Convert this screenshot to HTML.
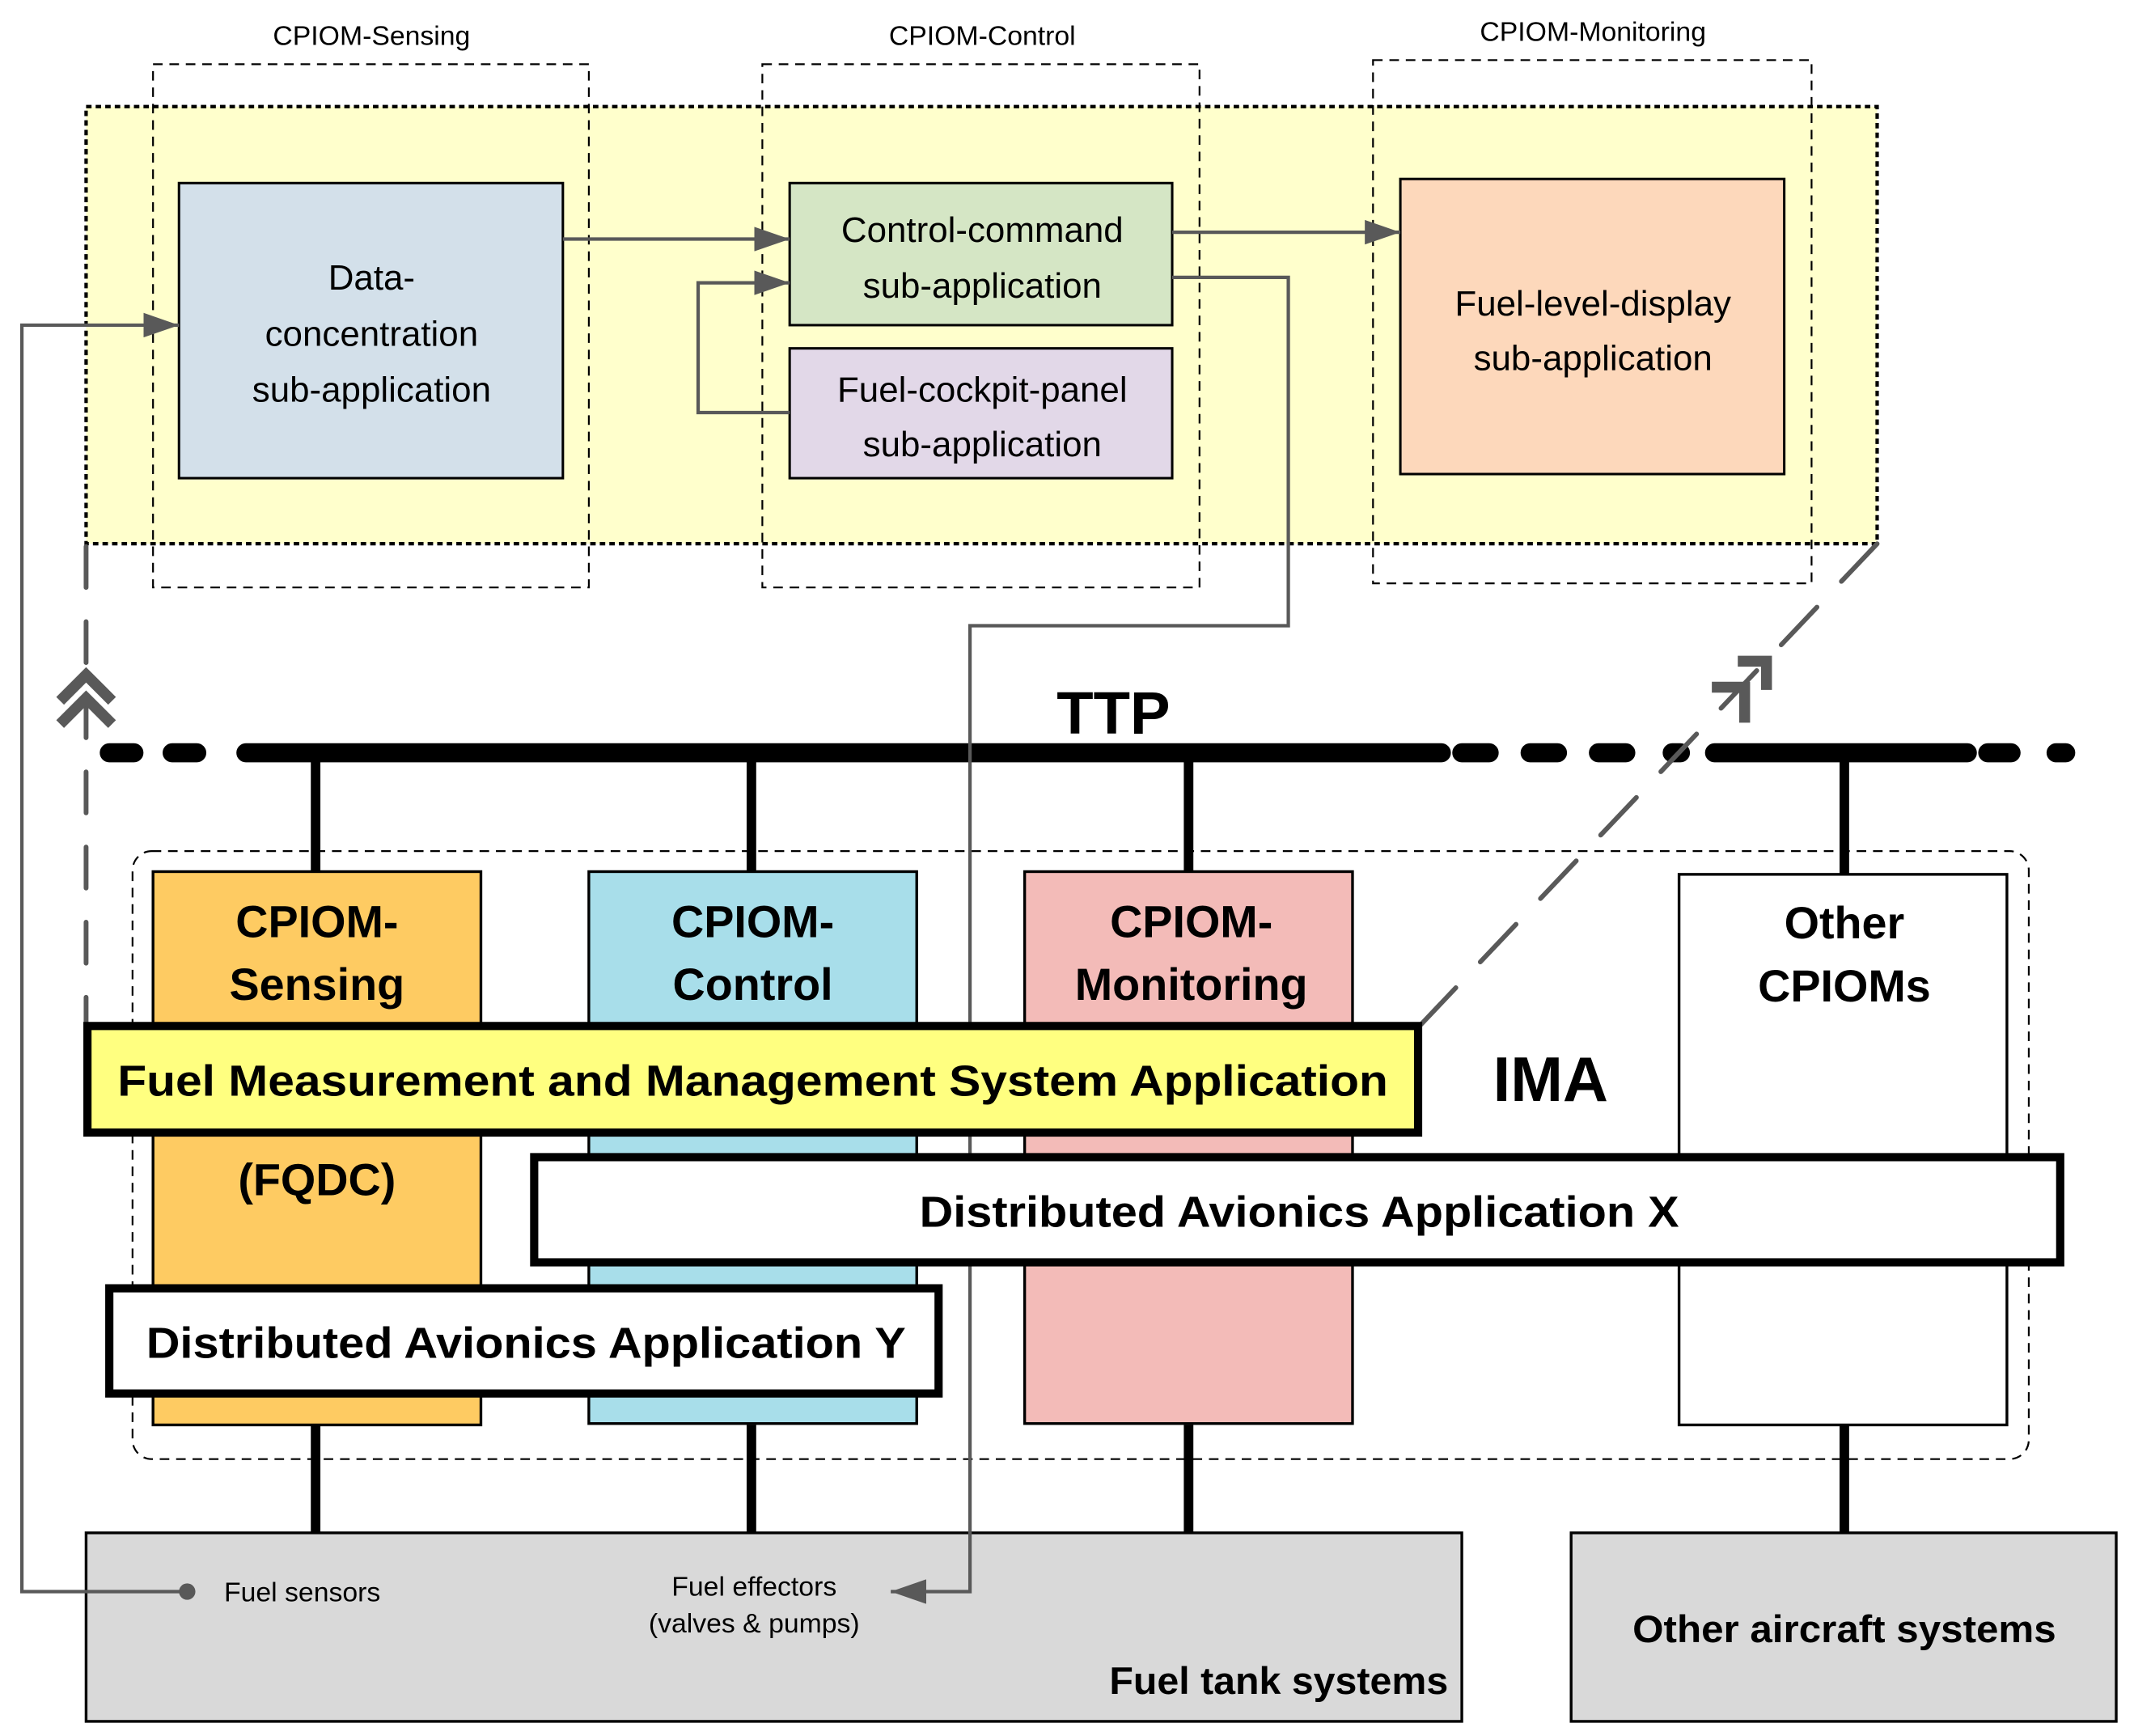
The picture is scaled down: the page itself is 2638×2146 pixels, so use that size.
<!DOCTYPE html>
<html><head><meta charset="utf-8"><style>
html,body{margin:0;padding:0;background:#fff}
svg{display:block}
text{font-family:"Liberation Sans",sans-serif}
</style></head><body>
<svg width="2638" height="2146" viewBox="0 0 1562 1270.7" xmlns="http://www.w3.org/2000/svg">
<defs>
<marker id="ar" markerWidth="26" markerHeight="18" refX="26" refY="9" orient="auto" markerUnits="userSpaceOnUse" viewBox="0 0 26 18">
<path d="M0,0 L26,9 L0,18 z" fill="#595959"/></marker>
</defs>
<rect x="63" y="78" width="1311" height="320" fill="#ffffcc" stroke="#000" stroke-width="2.5" stroke-dasharray="4,3"/>
<g fill="none" stroke="#000" stroke-width="1.3" stroke-dasharray="7,5">
<rect x="112" y="47" width="319" height="383"/>
<rect x="558" y="47" width="320" height="383"/>
<rect x="1005" y="44" width="321" height="383"/>
</g>
<g font-size="20" text-anchor="middle" fill="#000">
<text x="272" y="33">CPIOM-Sensing</text>
<text x="719" y="33">CPIOM-Control</text>
<text x="1166" y="30">CPIOM-Monitoring</text>
</g>
<g stroke="#000" stroke-width="1.8">
<rect x="131" y="134" width="281" height="216" fill="#d3e0ea"/>
<rect x="578" y="134" width="280" height="104" fill="#d5e6c5"/>
<rect x="578" y="255" width="280" height="95" fill="#e2d8e8"/>
<rect x="1025" y="131" width="281" height="216" fill="#fdd8bb"/>
</g>
<g font-size="26" text-anchor="middle" fill="#000">
<text x="272" y="212">Data-</text>
<text x="272" y="253">concentration</text>
<text x="272" y="294">sub-application</text>
<text x="719" y="177">Control-command</text>
<text x="719" y="218">sub-application</text>
<text x="719" y="294">Fuel-cockpit-panel</text>
<text x="719" y="334">sub-application</text>
<text x="1166" y="231">Fuel-level-display</text>
<text x="1166" y="271">sub-application</text>
</g>
<g stroke="#000" stroke-width="14" stroke-linecap="round">
<path d="M80,551 H98"/><path d="M126,551 H144"/>
<path d="M180,551 H1055"/>
<path d="M1070,551 H1090"/><path d="M1120,551 H1140"/><path d="M1170,551 H1190"/>
<path d="M1224,551 H1230"/>
<path d="M1255,551 H1440"/>
<path d="M1455,551 H1472"/><path d="M1505,551 H1512"/>
</g>
<text x="815" y="537" font-size="44" font-weight="bold" text-anchor="middle">TTP</text>
<g stroke="#000" stroke-width="7">
<path d="M231,551 V640"/><path d="M550,551 V640"/><path d="M870,551 V640"/><path d="M1350,551 V642"/>
<path d="M231,1043 V1122"/><path d="M550,1043 V1122"/><path d="M870,1043 V1122"/><path d="M1350,1040 V1122"/>
</g>
<rect x="97" y="623" width="1388" height="445" rx="14" fill="none" stroke="#000" stroke-width="1.3" stroke-dasharray="7,5"/>
<g stroke="#000" stroke-width="2">
<rect x="112" y="638" width="240" height="405" fill="#fecb62"/>
<rect x="431" y="638" width="240" height="404" fill="#a8deea"/>
<rect x="750" y="638" width="240" height="404" fill="#f3bbb8"/>
<rect x="1229" y="640" width="240" height="403" fill="#fff"/>
</g>
<g font-size="33" font-weight="bold" text-anchor="middle">
<text x="232" y="686">CPIOM-</text>
<text x="232" y="732">Sensing</text>
<text x="232" y="875">(FQDC)</text>
<text x="551" y="686">CPIOM-</text>
<text x="551" y="732">Control</text>
<text x="872" y="686">CPIOM-</text>
<text x="872" y="732">Monitoring</text>
<text x="1350" y="687">Other</text>
<text x="1350" y="733">CPIOMs</text>
</g>
<g stroke="#000" stroke-width="2" fill="#d9d9d9">
<rect x="63" y="1122" width="1007" height="138"/>
<rect x="1150" y="1122" width="399" height="138"/>
</g>
<g font-size="20" fill="#000">
<text x="164" y="1172">Fuel sensors</text>
<text x="552" y="1168" text-anchor="middle">Fuel effectors</text>
<text x="552" y="1195" text-anchor="middle">(valves &amp; pumps)</text>
</g>
<g font-size="28" font-weight="bold">
<text x="1060" y="1240" text-anchor="end" textLength="248" lengthAdjust="spacingAndGlyphs">Fuel tank systems</text>
<text x="1350" y="1202" text-anchor="middle" textLength="310" lengthAdjust="spacingAndGlyphs">Other aircraft systems</text>
</g>
<g fill="none" stroke="#595959" stroke-width="2.5">
<path d="M412,175 H578" marker-end="url(#ar)"/>
<path d="M578,302 H511 V207 H578" marker-end="url(#ar)"/>
<path d="M858,170 H1025" marker-end="url(#ar)"/>
<path d="M858,203 H943 V458 H710 V1165 H652" marker-end="url(#ar)"/>
<path d="M137,1165 H16 V238 H131" marker-end="url(#ar)"/>
</g>
<circle cx="137" cy="1165" r="6" fill="#595959"/>
<g fill="none" stroke="#595959" stroke-width="3.5" stroke-linecap="round">
<path d="M63,400 V750" stroke-dasharray="30,25"/>
<path d="M1374,398 L1040,750" stroke-dasharray="38,26"/>
</g>
<g fill="none" stroke="#595959" stroke-width="8">
<path d="M44,513 L63,494 L82,513"/>
<path d="M44,530 L63,511 L82,530"/>
<path d="M1272,484 H1293 V505"/>
<path d="M1253,503 H1277 V529"/>
</g>
<g stroke="#000" stroke-width="6">
<rect x="64" y="751" width="974" height="78" fill="#ffff80"/>
<rect x="391" y="847" width="1117" height="77" fill="#fff"/>
<rect x="80" y="943" width="607" height="77" fill="#fff"/>
</g>
<g font-size="32" font-weight="bold" text-anchor="middle">
<text x="551" y="802" textLength="930" lengthAdjust="spacingAndGlyphs">Fuel Measurement and Management System Application</text>
<text x="951" y="898" textLength="556" lengthAdjust="spacingAndGlyphs">Distributed Avionics Application X</text>
<text x="385" y="994" textLength="556" lengthAdjust="spacingAndGlyphs">Distributed Avionics Application Y</text>
<text x="1135" y="806" font-size="46">IMA</text>
</g>
</svg>
</body></html>
